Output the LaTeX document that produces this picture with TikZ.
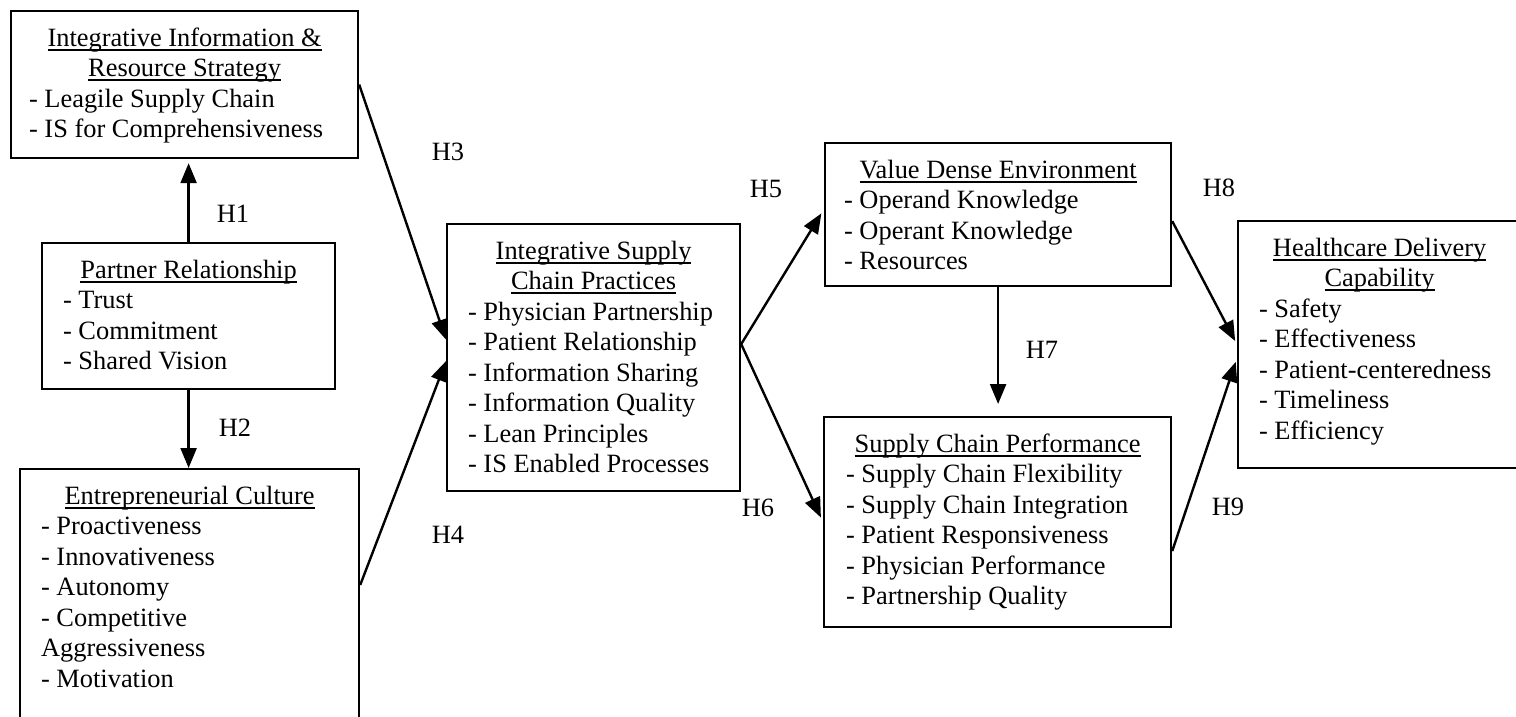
\documentclass[tikz,border=0pt]{standalone}
\usepackage{fontspec}
\setmainfont{Liberation Serif}
\usetikzlibrary{arrows.meta}
% underline drawn at a fixed depth, crossing the descenders
\newcommand{\uln}[1]{\setbox0\hbox{#1}\rlap{\rule[-4.5pt]{\wd0}{1.8pt}}\box0}
% centred, underlined heading line of a construct box
\newcommand{\ttl}[1]{\hbox to\hsize{\hss\strut\uln{#1}\hss}}
% indented list line of a construct box
\newcommand{\itm}[2][21pt]{\hbox to\hsize{\hskip#1\strut#2\hss}}
\begin{document}
\begin{tikzpicture}[x=1pt,y=-1pt,
  boxn/.style={draw, line width=2.2pt, anchor=north west, inner sep=0pt},
  txt/.style={anchor=north, inner sep=0pt, font=\fontsize{26.4}{30.5}\selectfont},
  hlab/.style={inner sep=0pt, font=\fontsize{26.4}{30.5}\selectfont},
  arr/.style={line width=2.4pt, -{Triangle[length=20pt,width=16pt]}}]
\fill[white] (0,0) rectangle (1516,717);
\useasboundingbox (0,0) rectangle (1516,717);

% construct boxes
\node[boxn, minimum width=347pt, minimum height=147pt] (A) at (10,10) {};
\node[boxn, minimum width=293pt, minimum height=146pt] (B) at (41,242) {};
\node[boxn, minimum width=339pt, minimum height=300pt] (C) at (19,468) {};
\node[boxn, minimum width=293pt, minimum height=267pt] (D) at (446,223) {};
\node[boxn, minimum width=346pt, minimum height=143pt] (E) at (824,142) {};
\node[boxn, minimum width=347pt, minimum height=210pt] (F) at (823,416) {};
\node[boxn, minimum width=283pt, minimum height=247pt] (G) at (1237,220) {};

% box contents
\node[txt] (At) at ([yshift=-14.65pt]A.north) {\vbox{\hsize=347pt
  \ttl{Integrative Information \&}\ttl{Resource Strategy}
  \itm[18pt]{- Leagile Supply Chain}\itm[18pt]{- IS for Comprehensiveness}}};
\node[txt] (Bt) at ([yshift=-14.65pt]B.north) {\vbox{\hsize=293pt
  \ttl{Partner Relationship}
  \itm{- Trust}\itm{- Commitment}\itm{- Shared Vision}}};
\node[txt] (Ct) at ([yshift=-14.65pt]C.north) {\vbox{\hsize=339pt
  \ttl{Entrepreneurial Culture}
  \itm{- Proactiveness}\itm{- Innovativeness}\itm{- Autonomy}
  \itm{- Competitive}\itm{Aggressiveness}\itm{- Motivation}}};
\node[txt] (Dt) at ([yshift=-14.65pt]D.north) {\vbox{\hsize=293pt
  \ttl{Integrative Supply}\ttl{Chain Practices}
  \itm{- Physician Partnership}\itm{- Patient Relationship}
  \itm{- Information Sharing}\itm{- Information Quality}
  \itm{- Lean Principles}\itm{- IS Enabled Processes}}};
\node[txt] (Et) at ([yshift=-14.65pt]E.north) {\vbox{\hsize=346pt
  \ttl{Value Dense Environment}
  \itm[19pt]{- Operand Knowledge}\itm[19pt]{- Operant Knowledge}\itm[19pt]{- Resources}}};
\node[txt] (Ft) at ([yshift=-14.65pt]F.north) {\vbox{\hsize=347pt
  \ttl{Supply Chain Performance}
  \itm[22pt]{- Supply Chain Flexibility}\itm[22pt]{- Supply Chain Integration}
  \itm[22pt]{- Patient Responsiveness}\itm[22pt]{- Physician Performance}
  \itm[22pt]{- Partnership Quality}}};
\node[txt] (Gt) at ([yshift=-14.65pt]G.north) {\vbox{\hsize=283pt
  \ttl{Healthcare Delivery}\ttl{Capability}
  \itm{- Safety}\itm{- Effectiveness}\itm{- Patient-centeredness}
  \itm{- Timeliness}\itm{- Efficiency}}};

% hypothesised paths
\draw[arr, shorten >=4pt] (B.north) -- (B.north |- A.south);
\draw[arr] (B.south) -- (B.south |- C.north);
\draw[arr] (A.east) -- ([yshift=18pt]D.west);
\coordinate (c4) at ([yshift=-117pt]C.north east);
\draw[arr] (c4) -- ([yshift=-3.5pt]D.west);
\coordinate (d5) at ([yshift=13.5pt]D.east);
\draw[arr, shorten >=5pt] (d5) -- ([yshift=5.5pt]E.west);
\draw[arr, shorten >=5pt] (d5) -- (F.west);
\draw[arr, shorten >=12pt] (E.south) -- (E.south |- F.north);
\draw[arr, shorten >=4pt] ([yshift=-6.5pt]E.east) -- (G.west);
\draw[arr, shorten >=4pt] ([yshift=-29pt]F.east) -- ([yshift=-13.5pt]G.west);

% path labels
\node[hlab] (h1) at (233,214) {H1};
\node[hlab] (h2) at (235,428) {H2};
\node[hlab] (h3) at (448,152) {H3};
\node[hlab] (h4) at (448,535) {H4};
\node[hlab] (h5) at (766,189) {H5};
\node[hlab] (h6) at (758,508) {H6};
\node[hlab] (h7) at (1042,350) {H7};
\node[hlab] (h8) at (1219,188) {H8};
\node[hlab] (h9) at (1228,507) {H9};
\end{tikzpicture}
\end{document}
